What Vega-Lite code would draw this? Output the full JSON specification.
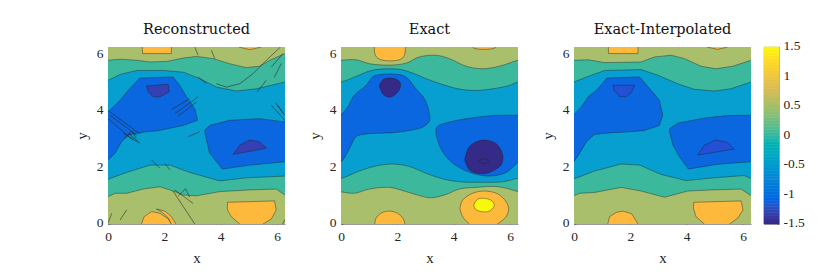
{"$schema":"https://vega.github.io/schema/vega-lite/v6.json","background":"white","padding":{"left":74,"top":21,"right":10,"bottom":8},"bounds":"flush","spacing":13,
"config":{"view":{"stroke":null},"font":"Liberation Serif","title":{"font":"DejaVu Serif","fontSize":14.5,"fontWeight":"normal","color":"#111","offset":9},
"axis":{"grid":false,"labelFont":"Liberation Serif","titleFont":"Liberation Serif","labelFontSize":13.5,"titleFontSize":15,"titleFontWeight":"normal","labelColor":"#262626","titleColor":"#262626","domainColor":"#555","domainWidth":0.6,"tickColor":"#555","tickWidth":0.6,"tickSize":-2,"labelPadding":7,"labelAngle":0,"labelFlush":false,"zindex":1}},
"datasets":{
"rec":[
{"p":"olive","x":-1,"y":-1},{"p":"olive","x":8,"y":-1},{"p":"olive","x":8,"y":8},{"p":"olive","x":-1,"y":8},
{"p":"teal","x":-0.3,"y":5.81},{"p":"teal","x":0,"y":5.81},{"p":"teal","x":0.43,"y":5.85},{"p":"teal","x":1.02,"y":5.81},{"p":"teal","x":1.49,"y":5.75},{"p":"teal","x":2.08,"y":5.77},{"p":"teal","x":2.67,"y":5.89},{"p":"teal","x":3.14,"y":5.95},{"p":"teal","x":3.73,"y":5.87},{"p":"teal","x":4.32,"y":5.69},{"p":"teal","x":4.91,"y":5.55},{"p":"teal","x":5.38,"y":5.6},{"p":"teal","x":5.74,"y":5.81},{"p":"teal","x":6.28,"y":6.05},{"p":"teal","x":6.6,"y":6.05},{"p":"teal","x":6.6,"y":1.03},{"p":"teal","x":6.28,"y":1.03},{"p":"teal","x":5.97,"y":1.24},{"p":"teal","x":5.03,"y":1.21},{"p":"teal","x":3.97,"y":1.15},{"p":"teal","x":3.14,"y":1.0},{"p":"teal","x":2.67,"y":1.03},{"p":"teal","x":2.31,"y":1.17},{"p":"teal","x":1.84,"y":1.32},{"p":"teal","x":1.25,"y":1.24},{"p":"teal","x":0.66,"y":1.09},{"p":"teal","x":0.25,"y":1.09},{"p":"teal","x":0,"y":0.97},{"p":"teal","x":-0.3,"y":0.97},
{"p":"cyan","x":-0.3,"y":5.1},{"p":"cyan","x":0,"y":5.1},{"p":"cyan","x":0.43,"y":5.31},{"p":"cyan","x":1.02,"y":5.45},{"p":"cyan","x":1.96,"y":5.45},{"p":"cyan","x":2.67,"y":5.39},{"p":"cyan","x":3.26,"y":5.16},{"p":"cyan","x":3.85,"y":4.86},{"p":"cyan","x":4.56,"y":4.72},{"p":"cyan","x":5.27,"y":4.8},{"p":"cyan","x":6.28,"y":5.04},{"p":"cyan","x":6.6,"y":5.04},{"p":"cyan","x":6.6,"y":1.7},{"p":"cyan","x":6.28,"y":1.7},{"p":"cyan","x":4.91,"y":1.64},{"p":"cyan","x":3.97,"y":1.53},{"p":"cyan","x":2.9,"y":1.83},{"p":"cyan","x":2.2,"y":2.09},{"p":"cyan","x":1.49,"y":2.09},{"p":"cyan","x":0.66,"y":1.83},{"p":"cyan","x":0,"y":1.59},{"p":"cyan","x":-0.3,"y":1.59},
{"p":"blueL","x":-0.3,"y":2.2},{"p":"blueL","x":0,"y":2.27},{"p":"blueL","x":0.25,"y":2.51},{"p":"blueL","x":0.48,"y":2.92},{"p":"blueL","x":0.72,"y":3.15},{"p":"blueL","x":1.02,"y":3.22},{"p":"blueL","x":1.4,"y":3.28},{"p":"blueL","x":1.72,"y":3.3},{"p":"blueL","x":2.67,"y":3.5},{"p":"blueL","x":3.18,"y":3.68},{"p":"blueL","x":3.08,"y":4.09},{"p":"blueL","x":2.79,"y":4.51},{"p":"blueL","x":2.55,"y":4.92},{"p":"blueL","x":2.31,"y":5.22},{"p":"blueL","x":1.13,"y":5.18},{"p":"blueL","x":0.72,"y":4.75},{"p":"blueL","x":0.43,"y":4.39},{"p":"blueL","x":0,"y":3.98},{"p":"blueL","x":-0.3,"y":3.9},
{"p":"blueR","x":6.6,"y":3.6},{"p":"blueR","x":6.28,"y":3.62},{"p":"blueR","x":5.38,"y":3.74},{"p":"blueR","x":4.32,"y":3.68},{"p":"blueR","x":3.61,"y":3.5},{"p":"blueR","x":3.44,"y":3.33},{"p":"blueR","x":3.44,"y":3.22},{"p":"blueR","x":3.61,"y":2.51},{"p":"blueR","x":4.06,"y":1.95},{"p":"blueR","x":5.03,"y":2.09},{"p":"blueR","x":6.28,"y":2.21},{"p":"blueR","x":6.6,"y":2.21},
{"p":"purpT","x":1.37,"y":4.9},{"p":"purpT","x":2.14,"y":4.96},{"p":"purpT","x":2.17,"y":4.69},{"p":"purpT","x":1.84,"y":4.51},{"p":"purpT","x":1.61,"y":4.51},{"p":"purpT","x":1.43,"y":4.69},{"p":"purpT","x":1.37,"y":4.9},
{"p":"purpB","x":4.44,"y":2.47},{"p":"purpB","x":4.68,"y":2.8},{"p":"purpB","x":5.03,"y":2.98},{"p":"purpB","x":5.38,"y":2.92},{"p":"purpB","x":5.62,"y":2.69},{"p":"purpB","x":4.44,"y":2.47},
{"p":"orT","x":1.19,"y":6.6},{"p":"orT","x":1.23,"y":6.05},{"p":"orT","x":2.25,"y":6.05},{"p":"orT","x":2.25,"y":6.6},
{"p":"orT2","x":4.65,"y":6.4},{"p":"orT2","x":4.65,"y":6.28},{"p":"orT2","x":5.03,"y":6.19},{"p":"orT2","x":5.44,"y":6.28},{"p":"orT2","x":5.44,"y":6.4},
{"p":"orL","x":1.19,"y":-0.2},{"p":"orL","x":1.19,"y":0},{"p":"orL","x":1.28,"y":0.26},{"p":"orL","x":1.55,"y":0.44},{"p":"orL","x":1.84,"y":0.38},{"p":"orL","x":2.14,"y":0.18},{"p":"orL","x":2.25,"y":0},{"p":"orL","x":2.25,"y":-0.2},
{"p":"orC","x":1.72,"y":0.53},{"p":"orC","x":2.02,"y":0.46},{"p":"orC","x":2.25,"y":0.26},{"p":"orC","x":2.41,"y":0},{"p":"orC","x":2.41,"y":-0.2},{"p":"orC","x":2.25,"y":-0.2},{"p":"orC","x":2.25,"y":0},{"p":"orC","x":2.14,"y":0.22},{"p":"orC","x":1.9,"y":0.44},{"p":"orC","x":1.72,"y":0.53},
{"p":"orR","x":4.24,"y":0.77},{"p":"orR","x":5.91,"y":0.82},{"p":"orR","x":5.97,"y":0.5},{"p":"orR","x":5.8,"y":0.18},{"p":"orR","x":5.5,"y":0},{"p":"orR","x":5.5,"y":-0.2},{"p":"orR","x":4.68,"y":-0.2},{"p":"orR","x":4.68,"y":0},{"p":"orR","x":4.38,"y":0.26},{"p":"orR","x":4.24,"y":0.5},{"p":"orR","x":4.24,"y":0.77}
],
"spikes":[
{"s":1,"x":4.2,"y":4.86},{"s":1,"x":4.68,"y":4.98},{"s":1,"x":5.15,"y":5.34},{"s":1,"x":5.62,"y":5.81},{"s":1,"x":6.12,"y":6.28},
{"s":2,"x":5.8,"y":5.57},{"s":2,"x":6.21,"y":6.05},
{"s":3,"x":5.3,"y":4.7},{"s":3,"x":5.62,"y":5.1},
{"s":4,"x":2.25,"y":4.06},{"s":4,"x":2.9,"y":4.45},
{"s":5,"x":2.37,"y":3.92},{"s":5,"x":3.2,"y":4.51},
{"s":6,"x":2.49,"y":3.83},{"s":6,"x":3.14,"y":4.33},
{"s":7,"x":0,"y":4.03},{"s":7,"x":1.13,"y":3.2},
{"s":8,"x":0,"y":3.74},{"s":8,"x":0.9,"y":2.97},
{"s":9,"x":0.07,"y":3.86},{"s":9,"x":1.02,"y":3.15},
{"s":10,"x":5.8,"y":4.21},{"s":10,"x":6.28,"y":3.68},
{"s":11,"x":6.03,"y":4.21},{"s":11,"x":6.28,"y":3.86},
{"s":12,"x":0.54,"y":3.22},{"s":12,"x":1.13,"y":2.87},
{"s":13,"x":0.72,"y":3.22},{"s":13,"x":1.08,"y":2.92},
{"s":14,"x":2.85,"y":3.1},{"s":14,"x":3.26,"y":3.28},
{"s":15,"x":1.55,"y":2.27},{"s":15,"x":1.84,"y":1.98},
{"s":16,"x":2.02,"y":2.15},{"s":16,"x":2.2,"y":1.92},
{"s":17,"x":2.31,"y":1.17},{"s":17,"x":3.08,"y":0},
{"s":18,"x":2.37,"y":1.21},{"s":18,"x":3.02,"y":0.73},
{"s":19,"x":0,"y":0.02},{"s":19,"x":0.13,"y":0.38},
{"s":20,"x":0.43,"y":0.14},{"s":20,"x":0.66,"y":0.5},
{"s":21,"x":3.08,"y":6.28},{"s":21,"x":3.2,"y":5.99},
{"s":22,"x":3.67,"y":6.17},{"s":22,"x":3.79,"y":5.87},
{"s":23,"x":3.2,"y":5.22},{"s":23,"x":3.49,"y":4.98},
{"s":24,"x":3.85,"y":4.98},{"s":24,"x":4.2,"y":4.86},
{"s":25,"x":6.2,"y":0},{"s":25,"x":6.28,"y":0.16},
{"s":26,"x":0.6,"y":3.05},{"s":26,"x":0.85,"y":3.3},{"s":26,"x":1.0,"y":3.05},
{"s":27,"x":5.95,"y":4.3},{"s":27,"x":6.2,"y":3.95},
{"s":28,"x":5.9,"y":5.2},{"s":28,"x":6.15,"y":5.7},
{"s":29,"x":2.5,"y":1.0},{"s":29,"x":2.75,"y":1.25},{"s":29,"x":2.9,"y":0.95}
],
"exact":[
{"p":"olive","x":-1,"y":-1},{"p":"olive","x":8,"y":-1},{"p":"olive","x":8,"y":8},{"p":"olive","x":-1,"y":8},
{"p":"teal","x":-0.3,"y":5.81},{"p":"teal","x":0,"y":5.81},{"p":"teal","x":0.53,"y":5.83},{"p":"teal","x":1.01,"y":5.69},{"p":"teal","x":1.72,"y":5.64},{"p":"teal","x":2.31,"y":5.71},{"p":"teal","x":2.78,"y":5.93},{"p":"teal","x":3.37,"y":5.99},{"p":"teal","x":3.85,"y":5.87},{"p":"teal","x":4.44,"y":5.6},{"p":"teal","x":5.03,"y":5.51},{"p":"teal","x":5.62,"y":5.6},{"p":"teal","x":6.28,"y":5.81},{"p":"teal","x":6.6,"y":5.85},{"p":"teal","x":6.6,"y":1.12},{"p":"teal","x":6.28,"y":1.15},{"p":"teal","x":5.98,"y":1.24},{"p":"teal","x":5.5,"y":1.33},{"p":"teal","x":4.79,"y":1.3},{"p":"teal","x":4.2,"y":1.24},{"p":"teal","x":3.73,"y":1.05},{"p":"teal","x":3.2,"y":0.93},{"p":"teal","x":2.78,"y":1.01},{"p":"teal","x":2.31,"y":1.15},{"p":"teal","x":1.72,"y":1.3},{"p":"teal","x":1.01,"y":1.24},{"p":"teal","x":0.47,"y":1.09},{"p":"teal","x":0,"y":1.14},{"p":"teal","x":-0.3,"y":1.14},
{"p":"cyan","x":-0.3,"y":5.04},{"p":"cyan","x":0,"y":5.04},{"p":"cyan","x":0.53,"y":5.24},{"p":"cyan","x":1.01,"y":5.43},{"p":"cyan","x":1.42,"y":5.5},{"p":"cyan","x":2.07,"y":5.49},{"p":"cyan","x":2.54,"y":5.36},{"p":"cyan","x":3.02,"y":5.16},{"p":"cyan","x":3.61,"y":4.95},{"p":"cyan","x":4.2,"y":4.79},{"p":"cyan","x":4.79,"y":4.74},{"p":"cyan","x":5.38,"y":4.8},{"p":"cyan","x":5.98,"y":4.92},{"p":"cyan","x":6.28,"y":5.04},{"p":"cyan","x":6.6,"y":5.04},{"p":"cyan","x":6.6,"y":1.62},{"p":"cyan","x":6.28,"y":1.62},{"p":"cyan","x":5.74,"y":1.5},{"p":"cyan","x":5.03,"y":1.48},{"p":"cyan","x":4.2,"y":1.5},{"p":"cyan","x":3.61,"y":1.6},{"p":"cyan","x":3.02,"y":1.8},{"p":"cyan","x":2.43,"y":2.04},{"p":"cyan","x":1.83,"y":2.13},{"p":"cyan","x":1.24,"y":2.06},{"p":"cyan","x":0.65,"y":1.88},{"p":"cyan","x":0,"y":1.62},{"p":"cyan","x":-0.3,"y":1.62},
{"p":"blueL","x":-0.3,"y":2.15},{"p":"blueL","x":0,"y":2.21},{"p":"blueL","x":0.18,"y":2.45},{"p":"blueL","x":0.36,"y":2.8},{"p":"blueL","x":0.53,"y":3.1},{"p":"blueL","x":0.77,"y":3.18},{"p":"blueL","x":1.24,"y":3.22},{"p":"blueL","x":1.83,"y":3.24},{"p":"blueL","x":2.43,"y":3.32},{"p":"blueL","x":2.9,"y":3.44},{"p":"blueL","x":3.14,"y":3.66},{"p":"blueL","x":3.11,"y":4.03},{"p":"blueL","x":2.96,"y":4.45},{"p":"blueL","x":2.66,"y":4.8},{"p":"blueL","x":2.31,"y":5.22},{"p":"blueL","x":2.01,"y":5.31},{"p":"blueL","x":1.42,"y":5.31},{"p":"blueL","x":1.12,"y":5.22},{"p":"blueL","x":0.89,"y":4.92},{"p":"blueL","x":0.47,"y":4.57},{"p":"blueL","x":0.24,"y":4.15},{"p":"blueL","x":0,"y":3.89},{"p":"blueL","x":-0.3,"y":3.85},
{"p":"blueR","x":6.6,"y":3.86},{"p":"blueR","x":6.28,"y":3.86},{"p":"blueR","x":5.38,"y":3.85},{"p":"blueR","x":4.67,"y":3.77},{"p":"blueR","x":3.85,"y":3.62},{"p":"blueR","x":3.42,"y":3.46},{"p":"blueR","x":3.37,"y":3.27},{"p":"blueR","x":3.49,"y":2.8},{"p":"blueR","x":3.73,"y":2.39},{"p":"blueR","x":4.14,"y":2.04},{"p":"blueR","x":4.67,"y":1.8},{"p":"blueR","x":5.27,"y":1.7},{"p":"blueR","x":5.86,"y":1.83},{"p":"blueR","x":6.28,"y":2.18},{"p":"blueR","x":6.6,"y":2.4},
{"p":"purpT","x":1.36,"y":4.92},{"p":"purpT","x":1.5,"y":5.13},{"p":"purpT","x":1.83,"y":5.17},{"p":"purpT","x":2.09,"y":5.04},{"p":"purpT","x":2.09,"y":4.8},{"p":"purpT","x":1.93,"y":4.6},{"p":"purpT","x":1.72,"y":4.5},{"p":"purpT","x":1.5,"y":4.6},{"p":"purpT","x":1.36,"y":4.92},
{"p":"purpB","x":4.39,"y":2.27},{"p":"purpB","x":4.56,"y":2.75},{"p":"purpB","x":5.03,"y":2.98},{"p":"purpB","x":5.5,"y":2.86},{"p":"purpB","x":5.74,"y":2.45},{"p":"purpB","x":5.68,"y":2.09},{"p":"purpB","x":5.27,"y":1.83},{"p":"purpB","x":4.91,"y":1.79},{"p":"purpB","x":4.56,"y":1.92},{"p":"purpB","x":4.39,"y":2.27},
{"p":"purpC","x":4.89,"y":2.24},{"p":"purpC","x":5.05,"y":2.33},{"p":"purpC","x":5.24,"y":2.24},{"p":"purpC","x":5.05,"y":2.13},{"p":"purpC","x":4.89,"y":2.24},
{"p":"orT","x":1.2,"y":6.7},{"p":"orT","x":1.22,"y":5.99},{"p":"orT","x":1.42,"y":5.83},{"p":"orT","x":2.07,"y":5.83},{"p":"orT","x":2.25,"y":5.99},{"p":"orT","x":2.27,"y":6.7},
{"p":"orT2","x":4.67,"y":6.5},{"p":"orT2","x":4.67,"y":6.28},{"p":"orT2","x":5.09,"y":6.2},{"p":"orT2","x":5.5,"y":6.28},{"p":"orT2","x":5.5,"y":6.5},
{"p":"orL","x":1.2,"y":-0.3},{"p":"orL","x":1.2,"y":0},{"p":"orL","x":1.24,"y":0.2},{"p":"orL","x":1.42,"y":0.38},{"p":"orL","x":1.69,"y":0.46},{"p":"orL","x":2.01,"y":0.38},{"p":"orL","x":2.21,"y":0.18},{"p":"orL","x":2.27,"y":0},{"p":"orL","x":2.27,"y":-0.3},
{"p":"orR","x":4.22,"y":0.56},{"p":"orR","x":4.32,"y":0.85},{"p":"orR","x":4.67,"y":1.09},{"p":"orR","x":5.09,"y":1.17},{"p":"orR","x":5.56,"y":1.07},{"p":"orR","x":5.86,"y":0.79},{"p":"orR","x":5.95,"y":0.53},{"p":"orR","x":5.86,"y":0.26},{"p":"orR","x":5.56,"y":0},{"p":"orR","x":5.3,"y":-0.2},{"p":"orR","x":4.8,"y":-0.2},{"p":"orR","x":4.56,"y":0},{"p":"orR","x":4.32,"y":0.26},{"p":"orR","x":4.22,"y":0.56},
{"p":"yel","x":4.71,"y":0.67},{"p":"yel","x":4.85,"y":0.88},{"p":"yel","x":5.09,"y":0.91},{"p":"yel","x":5.36,"y":0.82},{"p":"yel","x":5.44,"y":0.65},{"p":"yel","x":5.27,"y":0.46},{"p":"yel","x":4.97,"y":0.44},{"p":"yel","x":4.77,"y":0.53},{"p":"yel","x":4.71,"y":0.67}
],
"interp":[
{"p":"olive","x":-1,"y":-1},{"p":"olive","x":8,"y":-1},{"p":"olive","x":8,"y":8},{"p":"olive","x":-1,"y":8},
{"p":"teal","x":-0.3,"y":5.81},{"p":"teal","x":0,"y":5.81},{"p":"teal","x":0.5,"y":5.83},{"p":"teal","x":1.09,"y":5.73},{"p":"teal","x":2.38,"y":5.75},{"p":"teal","x":2.86,"y":5.93},{"p":"teal","x":3.45,"y":5.99},{"p":"teal","x":3.92,"y":5.87},{"p":"teal","x":4.51,"y":5.6},{"p":"teal","x":5.04,"y":5.51},{"p":"teal","x":5.63,"y":5.6},{"p":"teal","x":6.28,"y":5.81},{"p":"teal","x":6.6,"y":5.85},{"p":"teal","x":6.6,"y":1.01},{"p":"teal","x":6.28,"y":1.01},{"p":"teal","x":5.93,"y":1.24},{"p":"teal","x":4.86,"y":1.21},{"p":"teal","x":4.04,"y":1.17},{"p":"teal","x":3.21,"y":0.95},{"p":"teal","x":2.38,"y":1.17},{"p":"teal","x":1.68,"y":1.3},{"p":"teal","x":0.73,"y":1.12},{"p":"teal","x":0.2,"y":1.09},{"p":"teal","x":0,"y":1.01},{"p":"teal","x":-0.3,"y":1.01},
{"p":"cyan","x":-0.3,"y":5.04},{"p":"cyan","x":0,"y":5.04},{"p":"cyan","x":0.5,"y":5.24},{"p":"cyan","x":1.09,"y":5.45},{"p":"cyan","x":2.38,"y":5.48},{"p":"cyan","x":2.98,"y":5.28},{"p":"cyan","x":3.68,"y":4.98},{"p":"cyan","x":4.27,"y":4.78},{"p":"cyan","x":4.98,"y":4.72},{"p":"cyan","x":5.57,"y":4.8},{"p":"cyan","x":6.28,"y":5.04},{"p":"cyan","x":6.6,"y":5.04},{"p":"cyan","x":6.6,"y":1.62},{"p":"cyan","x":6.28,"y":1.62},{"p":"cyan","x":6.04,"y":1.72},{"p":"cyan","x":4.98,"y":1.64},{"p":"cyan","x":3.98,"y":1.54},{"p":"cyan","x":3.09,"y":1.76},{"p":"cyan","x":2.33,"y":2.09},{"p":"cyan","x":1.68,"y":2.13},{"p":"cyan","x":0.73,"y":1.88},{"p":"cyan","x":0,"y":1.6},{"p":"cyan","x":-0.3,"y":1.6},
{"p":"blueL","x":-0.3,"y":2.15},{"p":"blueL","x":0,"y":2.21},{"p":"blueL","x":0.2,"y":2.51},{"p":"blueL","x":0.44,"y":2.92},{"p":"blueL","x":0.73,"y":3.18},{"p":"blueL","x":1.32,"y":3.24},{"p":"blueL","x":1.91,"y":3.27},{"p":"blueL","x":2.5,"y":3.32},{"p":"blueL","x":3.03,"y":3.5},{"p":"blueL","x":3.15,"y":3.86},{"p":"blueL","x":3.03,"y":4.39},{"p":"blueL","x":2.74,"y":4.74},{"p":"blueL","x":2.33,"y":5.22},{"p":"blueL","x":1.17,"y":5.18},{"p":"blueL","x":0.85,"y":4.8},{"p":"blueL","x":0.5,"y":4.51},{"p":"blueL","x":0.26,"y":4.15},{"p":"blueL","x":0,"y":3.89},{"p":"blueL","x":-0.3,"y":3.85},
{"p":"blueR","x":6.6,"y":3.86},{"p":"blueR","x":6.28,"y":3.86},{"p":"blueR","x":5.45,"y":3.85},{"p":"blueR","x":4.63,"y":3.76},{"p":"blueR","x":3.68,"y":3.58},{"p":"blueR","x":3.39,"y":3.38},{"p":"blueR","x":3.39,"y":3.28},{"p":"blueR","x":3.51,"y":2.8},{"p":"blueR","x":3.74,"y":2.39},{"p":"blueR","x":4.06,"y":1.95},{"p":"blueR","x":5.1,"y":2.12},{"p":"blueR","x":6.28,"y":2.21},{"p":"blueR","x":6.6,"y":2.21},
{"p":"purpT","x":1.38,"y":4.92},{"p":"purpT","x":2.15,"y":4.93},{"p":"purpT","x":2.05,"y":4.68},{"p":"purpT","x":1.85,"y":4.51},{"p":"purpT","x":1.62,"y":4.53},{"p":"purpT","x":1.44,"y":4.72},{"p":"purpT","x":1.38,"y":4.92},
{"p":"purpB","x":4.39,"y":2.45},{"p":"purpB","x":4.63,"y":2.8},{"p":"purpB","x":5.04,"y":2.98},{"p":"purpB","x":5.43,"y":2.9},{"p":"purpB","x":5.69,"y":2.66},{"p":"purpB","x":4.39,"y":2.45},
{"p":"orT","x":1.2,"y":6.6},{"p":"orT","x":1.23,"y":6.05},{"p":"orT","x":2.27,"y":6.05},{"p":"orT","x":2.27,"y":6.6},
{"p":"orT2","x":4.72,"y":6.4},{"p":"orT2","x":4.72,"y":6.28},{"p":"orT2","x":5.1,"y":6.2},{"p":"orT2","x":5.45,"y":6.28},{"p":"orT2","x":5.45,"y":6.4},
{"p":"orL","x":1.2,"y":-0.2},{"p":"orL","x":1.2,"y":0},{"p":"orL","x":1.26,"y":0.26},{"p":"orL","x":1.5,"y":0.41},{"p":"orL","x":1.74,"y":0.46},{"p":"orL","x":2.05,"y":0.36},{"p":"orL","x":2.27,"y":0},{"p":"orL","x":2.27,"y":-0.2},
{"p":"orR","x":4.25,"y":0.77},{"p":"orR","x":5.93,"y":0.82},{"p":"orR","x":6.0,"y":0.5},{"p":"orR","x":5.81,"y":0.2},{"p":"orR","x":5.51,"y":0},{"p":"orR","x":5.51,"y":-0.2},{"p":"orR","x":4.63,"y":-0.2},{"p":"orR","x":4.63,"y":0},{"p":"orR","x":4.33,"y":0.26},{"p":"orR","x":4.24,"y":0.56},{"p":"orR","x":4.25,"y":0.77}
],
"bar":[{"a":-1.5,"b":-1.45},{"a":-1.45,"b":-1.4},{"a":-1.4,"b":-1.35},{"a":-1.35,"b":-1.3},{"a":-1.3,"b":-1.25},{"a":-1.25,"b":-1.2},{"a":-1.2,"b":-1.15},{"a":-1.15,"b":-1.1},{"a":-1.1,"b":-1.05},{"a":-1.05,"b":-1},{"a":-1,"b":-0.95},{"a":-0.95,"b":-0.9},{"a":-0.9,"b":-0.85},{"a":-0.85,"b":-0.8},{"a":-0.8,"b":-0.75},{"a":-0.75,"b":-0.7},{"a":-0.7,"b":-0.65},{"a":-0.65,"b":-0.6},{"a":-0.6,"b":-0.55},{"a":-0.55,"b":-0.5},{"a":-0.5,"b":-0.45},{"a":-0.45,"b":-0.4},{"a":-0.4,"b":-0.35},{"a":-0.35,"b":-0.3},{"a":-0.3,"b":-0.25},{"a":-0.25,"b":-0.2},{"a":-0.2,"b":-0.15},{"a":-0.15,"b":-0.1},{"a":-0.1,"b":-0.05},{"a":-0.05,"b":0},{"a":0,"b":0.05},{"a":0.05,"b":0.1},{"a":0.1,"b":0.15},{"a":0.15,"b":0.2},{"a":0.2,"b":0.25},{"a":0.25,"b":0.3},{"a":0.3,"b":0.35},{"a":0.35,"b":0.4},{"a":0.4,"b":0.45},{"a":0.45,"b":0.5},{"a":0.5,"b":0.55},{"a":0.55,"b":0.6},{"a":0.6,"b":0.65},{"a":0.65,"b":0.7},{"a":0.7,"b":0.75},{"a":0.75,"b":0.8},{"a":0.8,"b":0.85},{"a":0.85,"b":0.9},{"a":0.9,"b":0.95},{"a":0.95,"b":1},{"a":1,"b":1.05},{"a":1.05,"b":1.1},{"a":1.1,"b":1.15},{"a":1.15,"b":1.2},{"a":1.2,"b":1.25},{"a":1.25,"b":1.3},{"a":1.3,"b":1.35},{"a":1.35,"b":1.4},{"a":1.4,"b":1.45},{"a":1.45,"b":1.5}]
},
"hconcat":[
{"title":"Reconstructed","width":177,"height":177,"layer":[
{"data":{"name":"rec"},"mark":{"type":"line","filled":true,"clip":true,"opacity":1,"stroke":"#222","strokeWidth":0.5,"strokeOpacity":0.85},"encoding":{"x":{"field":"x","type":"quantitative","scale":{"domain":[0,6.283],"nice":false,"zero":false},"axis":{"values":[0,2,4,6],"title":"x","titlePadding":8}},"y":{"field":"y","type":"quantitative","scale":{"domain":[0,6.283],"nice":false,"zero":false},"axis":{"values":[0,2,4,6],"title":"y","titlePadding":7,"labelOffset":-1.5}},"fill":{"field":"p","type":"nominal","legend":null,"scale":{"domain":["olive","teal","cyan","blueL","blueR","purpT","purpB","orT","orT2","orL","orC","orR"],"range":["#a9bf6c","#3cb89d","#069fd0","#0a67e0","#0a67e0","#3640b4","#3640b4","#fdb93c","#fdb93c","#fdb93c","#fdb93c","#fdb93c"]}},"order":{"value":null}}},
{"data":{"name":"spikes"},"mark":{"type":"line","clip":true,"stroke":"#222","strokeWidth":0.55},"encoding":{"x":{"field":"x","type":"quantitative"},"y":{"field":"y","type":"quantitative"},"detail":{"field":"s"},"order":{"value":null}}}
]},
{"width":30,"height":177,"data":{"values":[{"x":0}]},"mark":{"type":"point","opacity":0},"encoding":{}},
{"title":"Exact","width":177,"height":177,"data":{"name":"exact"},"mark":{"type":"line","filled":true,"clip":true,"opacity":1,"interpolate":"catmull-rom","stroke":"#222","strokeWidth":0.5,"strokeOpacity":0.85},"encoding":{"x":{"field":"x","type":"quantitative","scale":{"domain":[0,6.283],"nice":false,"zero":false},"axis":{"values":[0,2,4,6],"title":"x","titlePadding":8}},"y":{"field":"y","type":"quantitative","scale":{"domain":[0,6.283],"nice":false,"zero":false},"axis":{"values":[0,2,4,6],"title":"y","titlePadding":7,"labelOffset":-1.5}},"fill":{"field":"p","type":"nominal","legend":null,"scale":{"domain":["olive","teal","cyan","blueL","blueR","purpT","purpB","purpC","orT","orT2","orL","orR","yel"],"range":["#a9bf6c","#3cb89d","#069fd0","#0a67e0","#0a67e0","#352a87","#352a87","#352a87","#fdb93c","#fdb93c","#fdb93c","#fdb93c","#f8f80f"]}},"order":{"value":null}}},
{"width":30,"height":177,"data":{"values":[{"x":0}]},"mark":{"type":"point","opacity":0},"encoding":{}},
{"title":"Exact-Interpolated","width":177,"height":177,"data":{"name":"interp"},"mark":{"type":"line","filled":true,"clip":true,"opacity":1,"stroke":"#222","strokeWidth":0.5,"strokeOpacity":0.85},"encoding":{"x":{"field":"x","type":"quantitative","scale":{"domain":[0,6.283],"nice":false,"zero":false},"axis":{"values":[0,2,4,6],"title":"x","titlePadding":8}},"y":{"field":"y","type":"quantitative","scale":{"domain":[0,6.283],"nice":false,"zero":false},"axis":{"values":[0,2,4,6],"title":"y","titlePadding":7,"labelOffset":-1.5}},"fill":{"field":"p","type":"nominal","legend":null,"scale":{"domain":["olive","teal","cyan","blueL","blueR","purpT","purpB","orT","orT2","orL","orR"],"range":["#a9bf6c","#3cb89d","#069fd0","#0a67e0","#0a67e0","#2350d4","#2350d4","#fdb93c","#fdb93c","#fdb93c","#fdb93c"]}},"order":{"value":null}}},
{"width":15,"height":177,"view":{"stroke":"#888","strokeWidth":0.8},"data":{"name":"bar"},"mark":{"type":"rect","strokeWidth":0.6},"encoding":{"y":{"field":"a","type":"quantitative","scale":{"domain":[-1.5,1.5],"nice":false,"zero":false},"axis":{"orient":"right","values":[-1.5,-1,-0.5,0,0.5,1,1.5],"title":null,"labelExpr":"datum.value+''","domain":false,"tickSize":-2,"labelPadding":6,"labelOffset":-1.5}},"y2":{"field":"b"},"fill":{"field":"a","type":"quantitative","legend":null,"scale":{"domain":[-1.5,-1.125,-0.75,-0.375,0,0.375,0.75,1.125,1.5],"range":["#352a87","#0363e1","#1485d4","#06a7c6","#38b99e","#92bf73","#d9ba56","#fcce2e","#f9fb0e"]}},"stroke":{"field":"a","type":"quantitative","legend":null,"scale":{"domain":[-1.5,-1.125,-0.75,-0.375,0,0.375,0.75,1.125,1.5],"range":["#352a87","#0363e1","#1485d4","#06a7c6","#38b99e","#92bf73","#d9ba56","#fcce2e","#f9fb0e"]}}}}
]}
